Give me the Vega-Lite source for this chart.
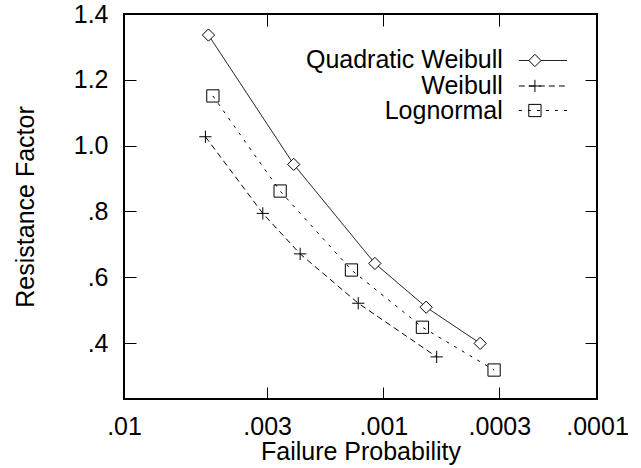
{
  "$schema": "https://vega.github.io/schema/vega-lite/v6.json",
  "width": 473,
  "height": 385,
  "autosize": {"type": "none"},
  "padding": {"left": 124, "top": 14, "right": 44, "bottom": 69},
  "background": "white",
  "config": {
    "view": {"stroke": "black", "strokeWidth": 2},
    "font": "Liberation Sans",
    "axis": {
      "grid": false,
      "domain": false,
      "tickColor": "black",
      "tickWidth": 1,
      "tickSize": -12,
      "labelColor": "black",
      "labelFont": "Liberation Sans",
      "labelFontSize": 25,
      "titleFont": "Liberation Sans",
      "titleFontSize": 25,
      "titleFontWeight": "normal",
      "titleColor": "black",
      "labelFlush": false,
      "labelOverlap": false
    }
  },
  "datasets": {
    "curves": [
      {"series": "Quadratic Weibull", "beta": 2.575, "factor": 1.336},
      {"series": "Quadratic Weibull", "beta": 2.826, "factor": 0.943},
      {"series": "Quadratic Weibull", "beta": 3.065, "factor": 0.642},
      {"series": "Quadratic Weibull", "beta": 3.216, "factor": 0.509},
      {"series": "Quadratic Weibull", "beta": 3.375, "factor": 0.399},
      {"series": "Weibull", "beta": 2.566, "factor": 1.027},
      {"series": "Weibull", "beta": 2.735, "factor": 0.794},
      {"series": "Weibull", "beta": 2.845, "factor": 0.671},
      {"series": "Weibull", "beta": 3.016, "factor": 0.521},
      {"series": "Weibull", "beta": 3.247, "factor": 0.358},
      {"series": "Lognormal", "beta": 2.588, "factor": 1.151},
      {"series": "Lognormal", "beta": 2.786, "factor": 0.862},
      {"series": "Lognormal", "beta": 2.996, "factor": 0.622},
      {"series": "Lognormal", "beta": 3.205, "factor": 0.448},
      {"series": "Lognormal", "beta": 3.416, "factor": 0.318}
    ],
    "keys": [
      {"series": "Quadratic Weibull"},
      {"series": "Weibull"},
      {"series": "Lognormal"}
    ]
  },
  "resolve": {"axis": {"x": "independent", "y": "independent"}},
  "layer": [
    {
      "data": {"name": "curves"},
      "encoding": {
        "x": {
          "field": "beta",
          "type": "quantitative",
          "scale": {"domain": [2.3263, 3.719], "nice": false, "zero": false},
          "axis": {
            "orient": "bottom",
            "values": [2.3263, 2.7478, 3.0902, 3.4316, 3.719],
            "labelExpr": "datum.value < 2.5 ? '.01' : datum.value < 2.9 ? '.003' : datum.value < 3.2 ? '.001' : datum.value < 3.6 ? '.0003' : '.0001'",
            "labelPadding": 27,
            "title": "Failure Probability",
            "titleY": 60,
            "titleBaseline": "alphabetic"
          }
        },
        "y": {
          "field": "factor",
          "type": "quantitative",
          "scale": {"domain": [0.23, 1.4], "nice": false, "zero": false},
          "axis": {
            "orient": "left",
            "values": [0.4, 0.6, 0.8, 1.0, 1.2, 1.4],
            "labelExpr": "datum.value < 0.99 ? replace(format(datum.value, '.1f'), '0.', '.') : format(datum.value, '.1f')",
            "labelPadding": 28,
            "title": "Resistance Factor",
            "titleX": -91,
            "titleBaseline": "alphabetic"
          }
        }
      },
      "layer": [
        {
          "mark": {"type": "line", "stroke": "black", "strokeWidth": 1},
          "encoding": {
            "strokeDash": {
              "field": "series",
              "type": "nominal",
              "legend": null,
              "scale": {"domain": ["Quadratic Weibull", "Weibull", "Lognormal"], "range": [[1, 0], [6, 4], [3, 6]]}
            }
          }
        },
        {
          "mark": {"type": "point", "stroke": "black", "strokeWidth": 1, "opacity": 1},
          "encoding": {
            "shape": {
              "field": "series",
              "type": "nominal",
              "legend": null,
              "scale": {"domain": ["Quadratic Weibull", "Weibull", "Lognormal"], "range": ["diamond", "M-1,0H1M0,-1V1", "square"]}
            },
            "fill": {
              "field": "series",
              "type": "nominal",
              "legend": null,
              "scale": {"domain": ["Quadratic Weibull", "Weibull", "Lognormal"], "range": ["white", "transparent", "transparent"]}
            },
            "size": {"value": 150}
          }
        }
      ]
    },
    {
      "data": {"name": "curves"},
      "mark": {"type": "point", "opacity": 0},
      "encoding": {
        "x": {
          "field": "beta",
          "type": "quantitative",
          "axis": {"orient": "top", "values": [2.3263, 2.7478, 3.0902, 3.4316, 3.719], "labels": false, "title": null}
        },
        "y": {
          "field": "factor",
          "type": "quantitative",
          "axis": {"orient": "right", "values": [0.4, 0.6, 0.8, 1.0, 1.2, 1.4], "labels": false, "title": null}
        }
      }
    },
    {
      "data": {"name": "keys"},
      "transform": [{"filter": "datum.series === 'Quadratic Weibull'"}],
      "encoding": {"y": {"datum": 1.2587, "type": "quantitative", "axis": null}},
      "layer": [
        {"mark": {"type": "text", "align": "right", "baseline": "middle", "fontSize": 25, "font": "Liberation Sans", "color": "black"},
         "encoding": {"x": {"datum": 3.4417, "type": "quantitative", "axis": null}, "text": {"field": "series"}}},
        {"mark": {"type": "rule", "stroke": "black", "strokeWidth": 1},
         "encoding": {"x": {"datum": 3.4889, "type": "quantitative", "axis": null}, "x2": {"datum": 3.6306}, "strokeDash": {"field": "series", "type": "nominal", "legend": null}}},
        {"mark": {"type": "point", "stroke": "black", "strokeWidth": 1, "opacity": 1},
         "encoding": {"x": {"datum": 3.5362, "type": "quantitative", "axis": null}, "shape": {"field": "series", "type": "nominal", "legend": null}, "fill": {"field": "series", "type": "nominal", "legend": null}, "size": {"value": 150}}}
      ]
    },
    {
      "data": {"name": "keys"},
      "transform": [{"filter": "datum.series === 'Weibull'"}],
      "encoding": {"y": {"datum": 1.1812, "type": "quantitative", "axis": null}},
      "layer": [
        {"mark": {"type": "text", "align": "right", "baseline": "middle", "fontSize": 25, "font": "Liberation Sans", "color": "black"},
         "encoding": {"x": {"datum": 3.4417, "type": "quantitative", "axis": null}, "text": {"field": "series"}}},
        {"mark": {"type": "rule", "stroke": "black", "strokeWidth": 1},
         "encoding": {"x": {"datum": 3.4889, "type": "quantitative", "axis": null}, "x2": {"datum": 3.6306}, "strokeDash": {"field": "series", "type": "nominal", "legend": null}}},
        {"mark": {"type": "point", "stroke": "black", "strokeWidth": 1, "opacity": 1},
         "encoding": {"x": {"datum": 3.5362, "type": "quantitative", "axis": null}, "shape": {"field": "series", "type": "nominal", "legend": null}, "fill": {"field": "series", "type": "nominal", "legend": null}, "size": {"value": 150}}}
      ]
    },
    {
      "data": {"name": "keys"},
      "transform": [{"filter": "datum.series === 'Lognormal'"}],
      "encoding": {"y": {"datum": 1.1067, "type": "quantitative", "axis": null}},
      "layer": [
        {"mark": {"type": "text", "align": "right", "baseline": "middle", "fontSize": 25, "font": "Liberation Sans", "color": "black"},
         "encoding": {"x": {"datum": 3.4417, "type": "quantitative", "axis": null}, "text": {"field": "series"}}},
        {"mark": {"type": "rule", "stroke": "black", "strokeWidth": 1},
         "encoding": {"x": {"datum": 3.4889, "type": "quantitative", "axis": null}, "x2": {"datum": 3.6306}, "strokeDash": {"field": "series", "type": "nominal", "legend": null}}},
        {"mark": {"type": "point", "stroke": "black", "strokeWidth": 1, "opacity": 1},
         "encoding": {"x": {"datum": 3.5362, "type": "quantitative", "axis": null}, "shape": {"field": "series", "type": "nominal", "legend": null}, "fill": {"field": "series", "type": "nominal", "legend": null}, "size": {"value": 150}}}
      ]
    }
  ]
}
